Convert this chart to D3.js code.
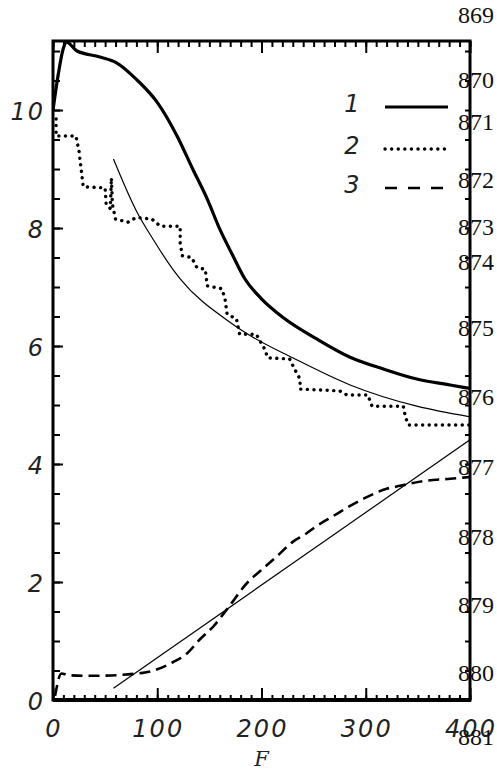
<!DOCTYPE html>
<html><head><meta charset="utf-8">
<script src="https://cdn.jsdelivr.net/npm/d3@7"></script>
<style>body{margin:0;background:#fff}</style>
</head><body>
<svg id="c" width="497" height="771"></svg>
<script>
// ---------- data ----------
const xTicks = [0, 100, 200, 300, 400];
const yTicks = [0, 2, 4, 6, 8, 10];
const xLabel = "F";
const legendLabels = ["1", "2", "3"];
const lineNumbers = ["869","870","871","872","873","874","875","876","877","878","879","880","881"];

// curve 1 (thick solid)
const series1 = [[0,10.0],[5,10.6],[10,11.05],[13,11.15],[23,11.0],[45,10.9],[61,10.8],[80,10.52],[100,10.13],[119,9.56],[134,9.0],[148,8.49],[160,7.98],[172,7.55],[184,7.14],[200,6.8],[221,6.48],[253,6.12],[285,5.81],[317,5.61],[349,5.44],[381,5.34],[400,5.28]];
// curve 2 (dotted staircase)
const series2 = [[3,9.85],[3,9.56],[22,9.56],[25,9.3],[27,9.0],[29,8.7],[50,8.68],[51,8.4],[55,8.33],[56,8.85],[57,8.4],[60,8.15],[72,8.1],[80,8.18],[95,8.15],[103,8.03],[122,8.03],[122,7.75],[124,7.53],[133,7.5],[138,7.33],[146,7.3],[148,7.02],[162,6.97],[165,6.8],[167,6.54],[176,6.46],[179,6.2],[195,6.2],[203,5.95],[206,5.8],[227,5.78],[232,5.6],[237,5.44],[237,5.27],[275,5.24],[282,5.17],[302,5.17],[306,4.98],[336,4.98],[338,4.8],[341,4.66],[400,4.66]];
// thin fit to curve 2
const fit2 = [[58,9.17],[80,8.29],[96,7.81],[115,7.3],[122,7.14],[170,6.4],[187,6.2],[230,5.8],[285,5.34],[349,4.98],[400,4.8]];
// curve 3 (dashed)
const series3 = [[2,0.07],[8,0.45],[15,0.42],[40,0.41],[86,0.46],[100,0.52],[115,0.64],[128,0.78],[141,1.03],[154,1.25],[167,1.54],[187,2.0],[199,2.19],[215,2.44],[230,2.68],[242,2.81],[253,2.95],[269,3.12],[285,3.29],[301,3.44],[320,3.58],[333,3.63],[355,3.71],[381,3.75],[400,3.78]];
// thin fit to curve 3
const fit3 = [[58,0.2],[400,4.41]];

// ---------- layout ----------
const svg = d3.select("#c");
const L = 53, R = 470, T = 41, B = 700;
const x = d3.scaleLinear().domain([0, 400]).range([L, R]);
const y = d3.scaleLinear().domain([0, 11.17]).range([B, T]);
const numFont = "'DejaVu Sans', sans-serif";

svg.append("defs").append("clipPath").attr("id","clip")
  .append("rect").attr("x",L).attr("y",T).attr("width",R-L).attr("height",B-T);

// ticks
function ticks(axis, tr) {
  const g = svg.append("g").attr("transform", tr).call(axis);
  g.select(".domain").remove();
  g.selectAll("line").attr("stroke","#000").attr("stroke-width",2);
  g.selectAll("text").remove();
}
const xMinor = d3.range(0, 401, 10), yMinor = d3.range(0, 11.01, 0.5);
ticks(d3.axisBottom(x).tickValues(xMinor).tickSize(-5).tickFormat(""), `translate(0,${B})`);
ticks(d3.axisBottom(x).tickValues(xTicks).tickSize(-12).tickFormat(""), `translate(0,${B})`);
ticks(d3.axisTop(x).tickValues(xMinor).tickSize(-6).tickFormat(""), `translate(0,${T})`);
ticks(d3.axisTop(x).tickValues(xTicks).tickSize(-12).tickFormat(""), `translate(0,${T})`);
ticks(d3.axisLeft(y).tickValues(yMinor).tickSize(-7).tickFormat(""), `translate(${L},0)`);
ticks(d3.axisLeft(y).tickValues(yTicks).tickSize(-10).tickFormat(""), `translate(${L},0)`);
ticks(d3.axisRight(y).tickValues(yMinor).tickSize(-5).tickFormat(""), `translate(${R},0)`);

// frame
svg.append("rect").attr("x",L).attr("y",T).attr("width",R-L).attr("height",B-T)
  .attr("fill","none").attr("stroke","#000").attr("stroke-width",3);
svg.append("line").attr("x1",L).attr("x2",R+1).attr("y1",B).attr("y2",B)
  .attr("stroke","#000").attr("stroke-width",4);

// tick labels
svg.selectAll(".xl").data(xTicks).join("text")
  .attr("x", d => x(d) + 1).attr("y", 737)
  .attr("text-anchor","middle").attr("font-family",numFont)
  .attr("font-style","oblique").attr("font-size",24).attr("font-weight",300)
  .attr("letter-spacing",2).attr("fill","#222").text(d => d);
svg.selectAll(".yl").data(yTicks).join("text")
  .attr("x", 45).attr("y", d => y(d) + 10)
  .attr("text-anchor","end").attr("font-family",numFont)
  .attr("font-style","oblique").attr("font-size",24).attr("font-weight",300)
  .attr("letter-spacing",2).attr("fill","#222").text(d => d);
svg.append("text").attr("x", x(200)).attr("y", 766).attr("text-anchor","middle")
  .attr("font-family","'DejaVu Serif', serif").attr("font-style","italic")
  .attr("font-size",21).attr("fill","#222").text(xLabel);

// lines
const line = d3.line().x(d => x(d[0])).y(d => y(d[1]));
const smooth = d3.line().x(d => x(d[0])).y(d => y(d[1])).curve(d3.curveMonotoneX);
const plot = svg.append("g").attr("clip-path","url(#clip)");
plot.append("path").attr("d", smooth(series1)).attr("fill","none").attr("stroke","#000").attr("stroke-width",3.2);
plot.append("path").attr("d", line(series2)).attr("fill","none").attr("stroke","#000")
  .attr("stroke-width",3.4).attr("stroke-linecap","round").attr("stroke-dasharray","0.1 6.5");
plot.append("path").attr("d", smooth(fit2)).attr("fill","none").attr("stroke","#000").attr("stroke-width",1.2);
plot.append("path").attr("d", smooth(series3)).attr("fill","none").attr("stroke","#000")
  .attr("stroke-width",2.6).attr("stroke-dasharray","11 6");
plot.append("path").attr("d", line(fit3)).attr("fill","none").attr("stroke","#000").attr("stroke-width",1.2);

// legend
const legY = [107, 149, 188];
const legStyles = [
  {w:3.2, dash:null, cap:"butt"},
  {w:3.4, dash:"0.1 6.5", cap:"round"},
  {w:2.6, dash:"12 11", cap:"butt"}
];
legendLabels.forEach((lab, i) => {
  svg.append("text").attr("x", 352).attr("y", legY[i] + 5).attr("text-anchor","middle")
    .attr("font-family",numFont).attr("font-style","oblique").attr("font-weight",300)
    .attr("font-size",24).attr("fill","#222").text(lab);
  const s = legStyles[i];
  const l = svg.append("line").attr("x1",385).attr("x2",448).attr("y1",legY[i]).attr("y2",legY[i])
    .attr("stroke","#000").attr("stroke-width",s.w).attr("stroke-linecap",s.cap);
  if (s.dash) l.attr("stroke-dasharray", s.dash);
});

// page line numbers (scan artefact)
const lineNoY = [15,80,122,180,227,262,328,397,467,537,605,673,737];
svg.selectAll(".ln").data(lineNumbers).join("text")
  .attr("x", 458).attr("y", (d,i) => lineNoY[i] + 8)
  .attr("font-family","'Liberation Serif', serif").attr("font-size",24)
  .attr("fill","#111").text(d => d);
</script>
</body></html>
